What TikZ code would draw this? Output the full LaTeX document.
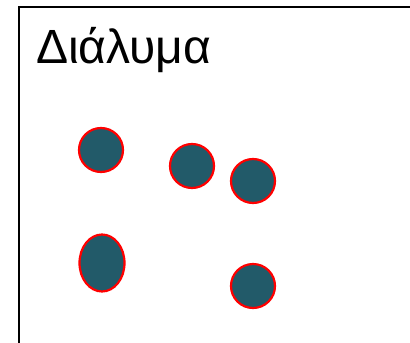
\documentclass[tikz,border=0pt]{standalone}
\usepackage{fontspec}
\usetikzlibrary{shapes.geometric}
\setmainfont{Liberation Sans}
\definecolor{particle}{HTML}{225A69}
\begin{document}
\begin{tikzpicture}[x=1pt,y=-1pt,
  particle/.style={circle,draw=red,fill=particle,line width=2.2pt,inner sep=0pt,minimum size=44pt},
  egg/.style={ellipse,draw=red,fill=particle,line width=2.2pt,inner sep=0pt,minimum width=45pt,minimum height=57pt}]
\useasboundingbox (0,0) rectangle (410,343);
\clip (0,0) rectangle (410,343);
\draw[line width=1.8pt] (19,7) rectangle (430,360);
\node[anchor=base west,inner sep=0pt,font=\fontsize{48pt}{54pt}\selectfont] (title) at (36,63) {Διάλυμα};
\node[particle] (p1) at (101,150) {};
\node[particle] (p2) at (192,166) {};
\node[particle] (p3) at (253,181) {};
\node[egg] (p4) at (102,263) {};
\node[particle] (p5) at (253,286) {};
\end{tikzpicture}
\end{document}
